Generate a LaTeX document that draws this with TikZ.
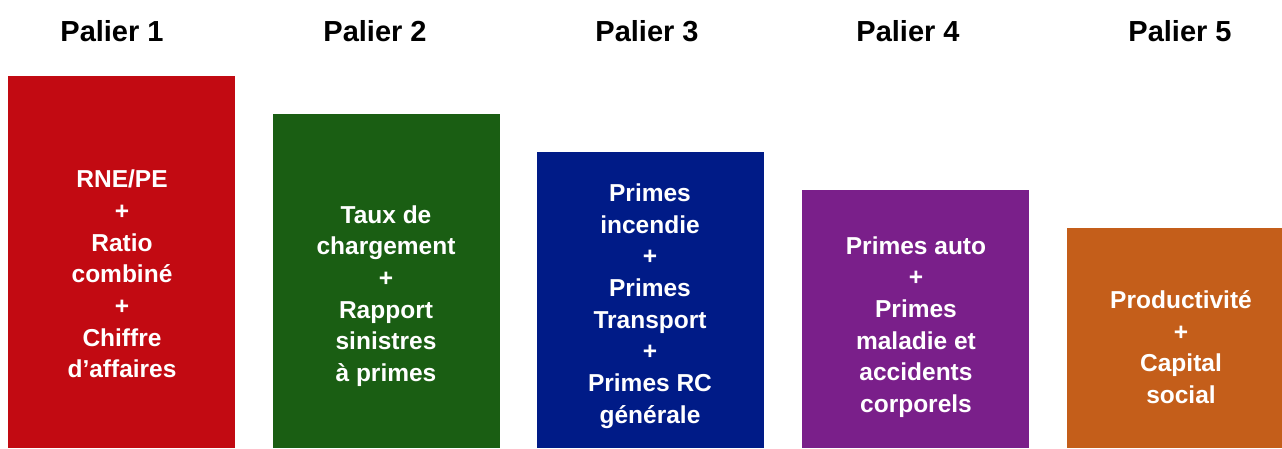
\documentclass[tikz,border=0pt]{standalone}
\usepackage{fontspec}
\setmainfont{Liberation Sans}
\definecolor{cred}{HTML}{C20A12}
\definecolor{cgreen}{HTML}{1A5E13}
\definecolor{cblue}{HTML}{001B87}
\definecolor{cpurple}{HTML}{7A1F8A}
\definecolor{corange}{HTML}{C45E1A}
\begin{document}
\begin{tikzpicture}[x=1pt,y=-1pt,
  head/.style={font=\bfseries\fontsize{29}{35}\selectfont, text=black, inner sep=0pt},
  bartext/.style={font=\bfseries\fontsize{24.5}{31.7}\selectfont, text=white, align=center, inner sep=0pt},
  bar/.style={inner sep=0pt, outer sep=0pt}]
\useasboundingbox (0,0) rectangle (1282,448);
\fill[cred] (8,76) rectangle (235,448);
\fill[cgreen] (273,114) rectangle (500,448);
\fill[cblue] (537,152) rectangle (764,448);
\fill[cpurple] (802,190) rectangle (1029,448);
\fill[corange] (1067,228) rectangle (1282,448);
\node[head] (h1) at (112,31) {Palier 1};
\node[head] (h2) at (375,31) {Palier 2};
\node[head] (h3) at (647,31) {Palier 3};
\node[head] (h4) at (908,31) {Palier 4};
\node[head] (h5) at (1180,31) {Palier 5};
\node[bartext] (t1) at (122,274) {RNE/PE\\+\\Ratio\\combiné\\+\\Chiffre\\d’affaires};
\node[bartext] (t2) at (386,296) {Taux de\\chargement\\+\\Rapport\\sinistres\\à primes};
\node[bartext] (t3) at (650,306) {Primes\\incendie\\+\\Primes\\Transport\\+\\Primes RC\\générale};
\node[bartext] (t4) at (916,327) {Primes auto\\+\\Primes\\maladie et\\accidents\\corporels};
\node[bartext] (t5) at (1181,347) {Productivité\\+\\Capital\\social};
\end{tikzpicture}
\end{document}
